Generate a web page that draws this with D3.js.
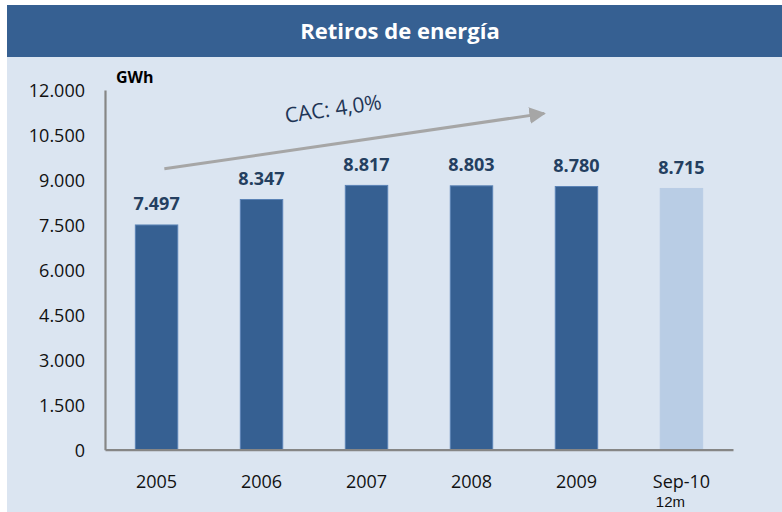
<!DOCTYPE html>
<html>
<head>
<meta charset="utf-8">
<script src="https://cdn.jsdelivr.net/npm/d3@7"></script>
<style>
  body { margin: 0; background: #fff; }
  svg { display: block; font-family: "Open Sans", sans-serif; }
</style>
</head>
<body>
<svg id="chart" width="782" height="512"></svg>
<script>
const categories = ['2005', '2006', '2007', '2008', '2009', 'Sep-10'];
const subLabels = ['', '', '', '', '', '12m'];
const values = [7497, 8347, 8817, 8803, 8780, 8715];
const estimated = [false, false, false, false, false, true];
const yTicks = [0, 1500, 3000, 4500, 6000, 7500, 9000, 10500, 12000];
const title = 'Retiros de energía';
const unit = 'GWh';
const growthLabel = 'CAC: 4,0%';

const width = 782;
const height = 512;

const svg = d3.select('#chart');

// Panel background + title bar

svg.append('rect')
  .attr('x', 7).attr('y', 57)
  .attr('width', width - 7).attr('height', height - 57)
  .attr('fill', '#dbe5f1');

svg.append('rect')
  .attr('x', 7).attr('y', 5)
  .attr('width', width - 7).attr('height', 52)
  .attr('fill', '#366092');

svg.append('text')
  .attr('x', 400).attr('y', 39)
  .attr('text-anchor', 'middle')
  .attr('fill', '#fff')
  .attr('font-size', 22)
  .attr('font-weight', 'bold')
  .text(title);

// Scales

const x = d3.scaleBand()
  .domain(categories)
  .range([105, 733])
  .paddingInner(0.596)
  .paddingOuter(0.289);

const y = d3.scaleLinear()
  .domain([0, 12000])
  .range([449.7, 90]);

// Bars

svg.append('g')
  .selectAll('rect')
  .data(values)
  .join('rect')
  .attr('x', (d, i) => x(categories[i]))
  .attr('y', d => y(d))
  .attr('width', x.bandwidth())
  .attr('height', d => y(0) - y(d))
  .attr('fill', (d, i) => estimated[i] ? '#b9cde5' : '#366092')
  .attr('stroke', (d, i) => estimated[i] ? '#b9cde5' : '#5b83b6')
  .attr('stroke-width', 1);

// Value labels

svg.append('g')
  .selectAll('text')
  .data(values)
  .join('text')
  .attr('x', (d, i) => x(categories[i]) + x.bandwidth() / 2)
  .attr('y', d => y(d) - 14.5)
  .attr('text-anchor', 'middle')
  .attr('fill', '#243f60')
  .attr('font-size', 18)
  .attr('font-weight', 'bold')
  .text(d => d3.format(',')(d).replace(/,/g, '.'));

// Axes (no tick marks, grey domain lines)

const yAxis = svg.append('g')
  .attr('transform', 'translate(105,0)')
  .call(d3.axisLeft(y)
    .tickValues(yTicks)
    .tickSize(0)
    .tickPadding(20)
    .tickFormat(d => d3.format(',')(d).replace(/,/g, '.')));

const xAxis = svg.append('g')
  .attr('transform', `translate(0,${y(0)})`)
  .call(d3.axisBottom(x).tickSize(0).tickPadding(26));

[yAxis, xAxis].forEach(g => {
  g.select('.domain').attr('stroke', '#868686').attr('stroke-width', 2.2);
  g.selectAll('text')
    .attr('font-family', '"Open Sans", sans-serif')
    .attr('font-size', 18)
    .attr('fill', '#111');
});
yAxis.selectAll('text').attr('dy', '0.35em');
xAxis.selectAll('text').attr('dy', '0.71em');

// second line under Sep-10
xAxis.selectAll('.tick')
  .filter((d, i) => subLabels[i])
  .append('text')
  .attr('y', 57)
  .attr('x', -11)
  .attr('text-anchor', 'middle')
  .attr('font-size', 15)
  .attr('fill', '#111')
  .text((d) => subLabels[categories.indexOf(d)]);

svg.append('text')
  .attr('x', 116).attr('y', 83)
  .attr('font-size', 16)
  .attr('font-weight', 'bold')
  .attr('fill', '#000')
  .text(unit);

// Growth arrow (CAC)

const x0 = x(categories[0]) + 29;
const y0 = y(9370);
const x1 = x(categories[4]) - 7;
const y1 = y(11240);
const angle = Math.atan2(y1 - y0, x1 - x0) * 180 / Math.PI;

svg.append('defs').append('marker')
  .attr('id', 'head')
  .attr('viewBox', '0 0 10 10')
  .attr('refX', 9).attr('refY', 5)
  .attr('markerWidth', 5.5).attr('markerHeight', 5.5)
  .attr('markerUnits', 'strokeWidth')
  .attr('orient', 'auto')
  .append('path')
  .attr('d', 'M0,0 L10,5 L0,10 Z')
  .attr('fill', '#a6a6a6');

svg.append('line')
  .attr('x1', x0).attr('y1', y0)
  .attr('x2', x1 - 4).attr('y2', y1 + 0.6)
  .attr('stroke', '#a6a6a6')
  .attr('stroke-width', 3)
  .attr('marker-end', 'url(#head)');

svg.append('text')
  .attr('transform', `translate(286,123) rotate(${angle})`)
  .attr('font-size', 21)
  .attr('fill', '#1f3556')
  .text(growthLabel);
</script>
</body>
</html>
